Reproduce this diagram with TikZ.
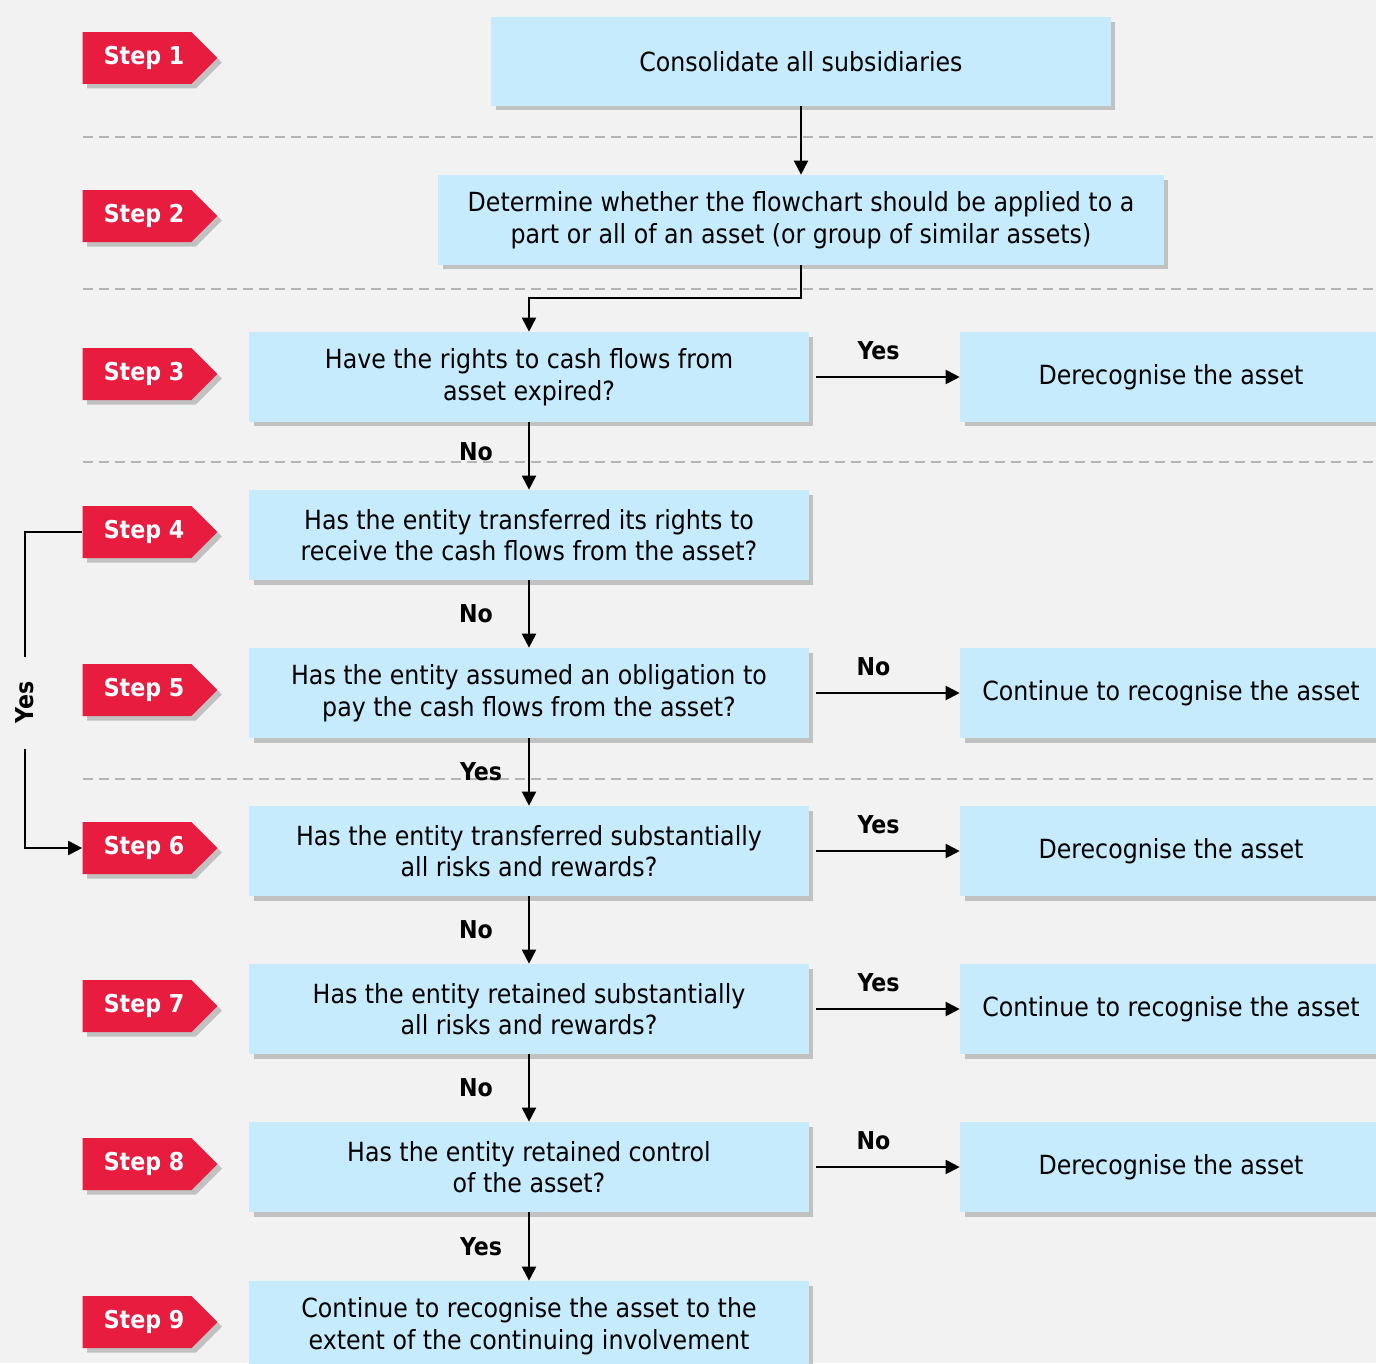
\documentclass[tikz,border=0pt]{standalone}
\usepackage{fontspec}
\setmainfont{DejaVu Sans Condensed}
\usetikzlibrary{arrows.meta,shapes.symbols,shadows}
\definecolor{bggray}{HTML}{F2F2F2}
\definecolor{stepred}{HTML}{E81C3E}
\definecolor{boxblue}{HTML}{C6EBFC}
\definecolor{sepgray}{HTML}{B4B4B4}
\tikzset{
	box/.style={fill=boxblue, align=center, inner sep=0pt, font=\fontsize{15}{18}\selectfont,
		drop shadow={shadow xshift=0.09cm, shadow yshift=-0.09cm, fill=black!60, opacity=0.35}},
	qbox/.style={box, minimum width=11.2cm, minimum height=1.8cm},
	rbox/.style={box, minimum width=8.44cm, minimum height=1.8cm},
	stepbox/.style={signal, signal to=east, fill=stepred, text=white, inner sep=0pt,
		minimum width=2.7cm, minimum height=1.04cm, font=\fontsize{14}{16}\selectfont\bfseries,
		drop shadow={shadow xshift=0.09cm, shadow yshift=-0.09cm, fill=black!60, opacity=0.35}},
	arr/.style={-{Triangle[width=0.28cm,length=0.28cm]}, line width=1.1pt},
	lab/.style={font=\fontsize{14}{16}\selectfont\bfseries},
	sep/.style={sepgray, line width=1.2pt, dash pattern=on 0.2cm off 0.12cm}
}
\begin{document}
\begin{tikzpicture}[x=0.02cm,y=-0.02cm]
	\useasboundingbox (0,0) rectangle (1376,1363);
	\clip (0,0) rectangle (1376,1363);
	\fill[bggray] (0,0) rectangle (1376,1363);
	\foreach \y in {137,289,462,779}
		\draw[sep] (83,\y) -- (1376,\y);
	\foreach \i in {1,...,9}
		\node[stepbox] (s\i) at (137,{58+158*(\i-1)}) {\hspace*{0.28cm}Step \i};

	\node[box, minimum width=12.4cm, minimum height=1.78cm] (q1) at (801,61.5) {Consolidate all subsidiaries};
	\node[box, minimum width=14.52cm, minimum height=1.8cm] (q2) at (801,220) {Determine whether the flowchart should be applied to a\\part or all of an asset (or group of similar assets)};
	\node[qbox] (q3) at (529,377) {Have the rights to cash flows from\\asset expired?};
	\node[qbox] (q4) at (529,535) {Has the entity transferred its rights to\\receive the cash flows from the asset?};
	\node[qbox] (q5) at (529,693) {Has the entity assumed an obligation to\\pay the cash flows from the asset?};
	\node[qbox] (q6) at (529,851) {Has the entity transferred substantially\\all risks and rewards?};
	\node[qbox] (q7) at (529,1009) {Has the entity retained substantially\\all risks and rewards?};
	\node[qbox] (q8) at (529,1167) {Has the entity retained control\\of the asset?};
	\node[qbox] (q9) at (529,1326) {Continue to recognise the asset to the\\extent of the continuing involvement};

	\node[rbox] (r3) at (1171,377) {Derecognise the asset};
	\node[rbox] (r5) at (1171,693) {Continue to recognise the asset};
	\node[rbox] (r6) at (1171,851) {Derecognise the asset};
	\node[rbox] (r7) at (1171,1009) {Continue to recognise the asset};
	\node[rbox] (r8) at (1171,1167) {Derecognise the asset};

	\draw[arr] (q1.south) -- (q2.north);
	\draw[arr] (q2.south) -- ++(0,33) -| (q3.north);
	\draw[arr] (q3.south) -- node[lab, xshift=-1.06cm, yshift=0.08cm] {No} (q4.north);
	\draw[arr] (q4.south) -- node[lab, xshift=-1.06cm] {No} (q5.north);
	\draw[arr] (q5.south) -- node[lab, xshift=-0.96cm] {Yes} (q6.north);
	\draw[arr] (q6.south) -- node[lab, xshift=-1.06cm] {No} (q7.north);
	\draw[arr] (q7.south) -- node[lab, xshift=-1.06cm] {No} (q8.north);
	\draw[arr] (q8.south) -- node[lab, xshift=-0.96cm] {Yes} (q9.north);

	\draw[arr, shorten <=4pt] (q3.east) -- node[lab, above=0.2cm, xshift=-0.12cm] {Yes} (r3.west);
	\draw[arr, shorten <=4pt] (q5.east) -- node[lab, above=0.2cm, xshift=-0.22cm] {No} (r5.west);
	\draw[arr, shorten <=4pt] (q6.east) -- node[lab, above=0.2cm, xshift=-0.12cm] {Yes} (r6.west);
	\draw[arr, shorten <=4pt] (q7.east) -- node[lab, above=0.2cm, xshift=-0.12cm] {Yes} (r7.west);
	\draw[arr, shorten <=4pt] (q8.east) -- node[lab, above=0.2cm, xshift=-0.22cm] {No} (r8.west);

	\draw[arr] (s4.west) -- ++(-57,0) |- node[pos=0.27, lab, rotate=90, fill=bggray, inner xsep=0.5cm] {Yes} (s6.west);
\end{tikzpicture}
\end{document}
